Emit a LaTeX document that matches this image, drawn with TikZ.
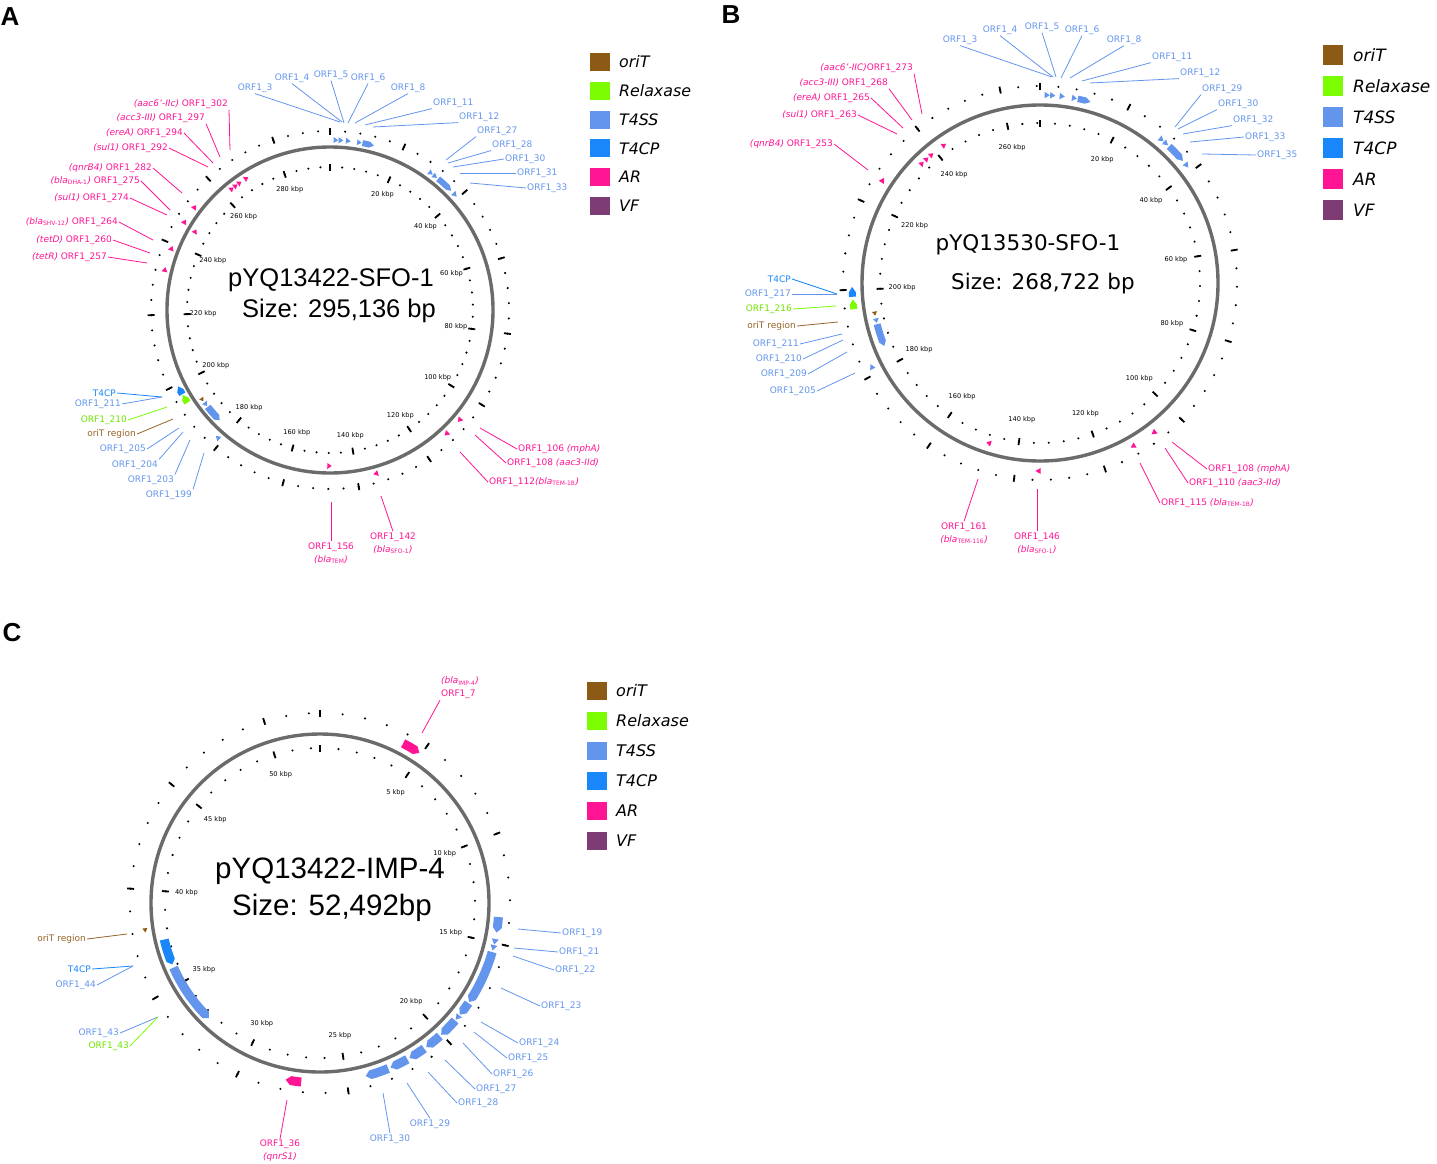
\documentclass[tikz,border=0pt]{standalone}
\usepackage{fontspec}
\setmainfont{DejaVu Sans}
\newfontfamily\arialfont{Liberation Sans}
\usetikzlibrary{calc}

\definecolor{oriTc}{RGB}{140,90,20}
\definecolor{oriTtxt}{RGB}{150,100,40}
\definecolor{relc}{RGB}{124,252,0}
\definecolor{t4ssc}{RGB}{100,149,237}
\definecolor{t4cpc}{RGB}{25,135,250}
\definecolor{arcol}{RGB}{255,20,147}
\definecolor{vfc}{RGB}{125,60,115}

% gene arrow on a ring: centre, radius, from, tip (degrees clockwise from top), colour, half width
\newcommand{\orfarrow}[6]{%
  \pgfmathsetmacro{\orfa}{#3-90}%
  \pgfmathsetmacro{\orfz}{#4-90}%
  \pgfmathsetmacro{\orfb}{#4-90-1.6*sign(#4-#3)}%
  \fill[#5] ($(#1)+(\orfa:{#2-#6})$)
    arc[start angle=\orfa, end angle=\orfb, radius={#2-#6}]
    -- ($(#1)+(\orfz:#2)$)
    -- ($(#1)+(\orfb:{#2+#6})$)
    arc[start angle=\orfb, end angle=\orfa, radius={#2+#6}] -- cycle;}
% small triangle: centre, radius, back, tip, colour, half width
\newcommand{\orftri}[6]{%
  \fill[#5] ($(#1)+({#3-90}:{#2-#6})$) -- ($(#1)+({#4-90}:#2)$)
    -- ($(#1)+({#3-90}:{#2+#6})$) -- cycle;}

\begin{document}
\begin{tikzpicture}[x=1pt,y=1pt,yscale=-1]
   \tikzset{ring/.style={draw=black!58, line width=3.4pt},
            ktick/.style={line width=1.8pt},
            kbp/.style={font=\fontsize{6.6}{7}\selectfont, inner sep=0pt},
            lab/.style={font=\fontsize{9}{13}\selectfont, inner sep=1pt, align=center},
            arlab/.style={lab, text=arcol},
            sslab/.style={lab, text=t4ssc},
            cplab/.style={lab, text=t4cpc},
            rellab/.style={lab, text=relc!90!black},
            orilab/.style={lab, text=oriTtxt},
            lead/.style={line width=0.8pt},
            title/.style={inner sep=0pt},
            letter/.style={font=\arialfont\bfseries\fontsize{26}{30}\selectfont},
            legbox/.style={minimum width=20pt, minimum height=18pt, inner sep=0pt}}
   \useasboundingbox (0,0) rectangle (1437,1164);

   % ================= A =================
   \node[letter] (pA) at (10,17) {A};
   \coordinate (A) at (330,310);
   \draw[ring] (A) circle[radius=163];
   \foreach \k in {0,4,...,292} {
     \fill ($(A)+({\k/295.136*360-90}:143)$) circle[radius=1.15];
     \fill ($(A)+({\k/295.136*360-90}:179)$) circle[radius=1.15];
   }
   \foreach \k in {0,20,...,280} {
     \draw[ktick] ($(A)+({\k/295.136*360-90}:139.5)$) -- ($(A)+({\k/295.136*360-90}:146.5)$);
     \draw[ktick] ($(A)+({\k/295.136*360-90}:175.5)$) -- ($(A)+({\k/295.136*360-90}:182.5)$);
   }
   \foreach \k in {20,40,...,280}
     \node[kbp] (ka\k) at ($(A)+({\k/295.136*360-90}:127)$) {\k\ kbp};
   \node[title, font=\arialfont\fontsize{25.5}{30}\selectfont] (ta1) at (331,280) {pYQ13422-SFO-1};
   \node[title, font=\arialfont\fontsize{25.5}{30}\selectfont] (ta2) at (339,311) {Size: 295,136 bp};

   % features A
   \orftri{A}{170}{1.2}{2.8}{t4ssc}{3}
   \orftri{A}{170}{2.9}{4.5}{t4ssc}{3}
   \orftri{A}{170}{5.4}{7.0}{t4ssc}{3}
   \orftri{A}{170}{9.2}{10.7}{t4ssc}{3}
   \orfarrow{A}{170}{11}{15}{t4ssc}{3}
   \orftri{A}{170}{35.6}{37.2}{t4ssc}{3}
   \orftri{A}{170}{37.4}{39}{t4ssc}{3}
   \orfarrow{A}{170}{39.5}{45.5}{t4ssc}{3}
   \orftri{A}{170}{46.5}{48.2}{t4ssc}{3}
   \orfarrow{A}{170}{240.3}{243.3}{t4cpc}{3.5}
   \orfarrow{A}{170}{237}{240}{relc}{3.5}
   \orftri{A}{156}{235.6}{234.2}{oriTc}{2.5}
   \orftri{A}{156}{233.6}{232}{t4ssc}{3}
   \orfarrow{A}{156}{231.6}{225}{t4ssc}{3.5}
   \orftri{A}{170}{220.6}{222.2}{t4ssc}{3}
   \orftri{A}{156}{320.2}{321.8}{arcol}{3}
   \orftri{A}{156}{322}{323.6}{arcol}{3}
   \orftri{A}{156}{323.8}{325.4}{arcol}{3}
   \orftri{A}{156}{326.8}{328.4}{arcol}{3}
   \orftri{A}{156}{299.5}{301.1}{arcol}{3}
   \orftri{A}{170}{306.5}{308.1}{arcol}{3}
   \orftri{A}{170}{300.5}{302.1}{arcol}{3}
   \orftri{A}{170}{290.5}{292.1}{arcol}{3}
   \orftri{A}{170}{283}{284.6}{arcol}{3}
   \orftri{A}{156}{181}{179.4}{arcol}{3}
   \orftri{A}{170}{163.6}{165.2}{arcol}{3}
   \orftri{A}{170}{136}{137.6}{arcol}{3}
   \orftri{A}{170}{129.6}{131.2}{arcol}{3}

   % labels A
   \node[arlab, anchor=east] (a302) at (229,104) {\textit{(aac6'-IIc)} ORF1\_302};
   \node[arlab, anchor=east] (a297) at (206,118) {\textit{(acc3-III)} ORF1\_297};
   \node[arlab, anchor=east] (a294) at (184,133) {\textit{(ereA)} ORF1\_294};
   \node[arlab, anchor=east] (a292) at (169,148) {\textit{(sul1)} ORF1\_292};
   \node[arlab, anchor=east] (a282) at (153,168) {\textit{(qnrB4)} ORF1\_282};
   \node[arlab, anchor=east] (a275) at (141,181) {\textit{(bla}\textsubscript{DHA-1}\textit{)} ORF1\_275};
   \node[arlab, anchor=east] (a274) at (130,198) {\textit{(sul1)} ORF1\_274};
   \node[arlab, anchor=east] (a264) at (119,222) {\textit{(bla}\textsubscript{SHV-12}\textit{)} ORF1\_264};
   \node[arlab, anchor=east] (a260) at (113,240) {\textit{(tetD)} ORF1\_260};
   \node[arlab, anchor=east] (a257) at (108,257) {\textit{(tetR)} ORF1\_257};
   \coordinate (ea302) at (230,150);
   \coordinate (ea297) at (220,157);
   \coordinate (ea294) at (213,163);
   \coordinate (ea292) at (208,167);
   \coordinate (ea282) at (182,193);
   \coordinate (ea275) at (170,210);
   \coordinate (ea274) at (167,215);
   \coordinate (ea264) at (153,240);
   \coordinate (ea260) at (150,253);
   \coordinate (ea257) at (147,263);
   \draw[lead, arcol] (a302.south east) -- (ea302);
   \draw[lead, arcol] (a297.south east) -- (ea297);
   \draw[lead, arcol] (a294.east) -- (ea294);
   \draw[lead, arcol] (a292.east) -- (ea292);
   \draw[lead, arcol] (a282.east) -- (ea282);
   \draw[lead, arcol] (a275.east) -- (ea275);
   \draw[lead, arcol] (a274.east) -- (ea274);
   \draw[lead, arcol] (a264.east) -- (ea264);
   \draw[lead, arcol] (a260.east) -- (ea260);
   \draw[lead, arcol] (a257.east) -- (ea257);

   \node[sslab] (a3) at (255,88) {ORF1\_3};
   \node[sslab] (a4) at (292,78) {ORF1\_4};
   \node[sslab] (a5) at (331,75) {ORF1\_5};
   \node[sslab] (a6) at (368,78) {ORF1\_6};
   \node[sslab] (a8) at (408,88) {ORF1\_8};
   \node[sslab, anchor=west] (a11) at (432,103) {ORF1\_11};
   \node[sslab, anchor=west] (a12) at (458,117) {ORF1\_12};
   \node[sslab, anchor=west] (a27) at (476,131) {ORF1\_27};
   \node[sslab, anchor=west] (a28) at (491,145) {ORF1\_28};
   \node[sslab, anchor=west] (a30) at (504,159) {ORF1\_30};
   \node[sslab, anchor=west] (a31) at (516,173) {ORF1\_31};
   \node[sslab, anchor=west] (a33) at (526,188) {ORF1\_33};
   \coordinate (ea3) at (340,122);
   \coordinate (ea4) at (342,122);
   \coordinate (ea5) at (344,123);
   \coordinate (ea6) at (348,123);
   \coordinate (ea8) at (355,123);
   \coordinate (ea11) at (365,125);
   \coordinate (ea12) at (373,127);
   \coordinate (ea27) at (446,160);
   \coordinate (ea28) at (448,163);
   \coordinate (ea30) at (453,167);
   \coordinate (ea31) at (460,173);
   \coordinate (ea33) at (470,183);
   \draw[lead, t4ssc] (a3.south) -- (ea3);
   \draw[lead, t4ssc] (a4.south) -- (ea4);
   \draw[lead, t4ssc] (a5.south) -- (ea5);
   \draw[lead, t4ssc] (a6.south) -- (ea6);
   \draw[lead, t4ssc] (a8.south) -- (ea8);
   \draw[lead, t4ssc] (a11.south west) -- (ea11);
   \draw[lead, t4ssc] (a12.south west) -- (ea12);
   \draw[lead, t4ssc] (a27.south west) -- (ea27);
   \draw[lead, t4ssc] (a28.south west) -- (ea28);
   \draw[lead, t4ssc] (a30.west) -- (ea30);
   \draw[lead, t4ssc] (a31.west) -- (ea31);
   \draw[lead, t4ssc] (a33.west) -- (ea33);

   \node[cplab, anchor=east] (acp) at (117,393) {T4CP};
   \node[sslab, anchor=east] (a211) at (122,404) {ORF1\_211};
   \node[rellab, anchor=east] (a210) at (128,420) {ORF1\_210};
   \node[orilab, anchor=east] (aori) at (137,434) {oriT region};
   \node[sslab, anchor=east] (a205) at (147,449) {ORF1\_205};
   \node[sslab, anchor=east] (a204) at (159,465) {ORF1\_204};
   \node[sslab, anchor=east] (a203) at (175,480) {ORF1\_203};
   \node[sslab, anchor=east] (a199) at (193,495) {ORF1\_199};
   \coordinate (eacp) at (162,397);
   \coordinate (ea210) at (167,407);
   \coordinate (eaori) at (173,419);
   \coordinate (ea205) at (179,428);
   \coordinate (ea204) at (183,432);
   \coordinate (ea203) at (190,440);
   \coordinate (ea199) at (204,453);
   \draw[lead, t4cpc] (acp.east) -- (eacp);
   \draw[lead, t4ssc] (a211.east) -- (eacp);
   \draw[lead, relc] (a210.east) -- (ea210);
   \draw[lead, oriTtxt] (aori.east) -- (eaori);
   \draw[lead, t4ssc] (a205.east) -- (ea205);
   \draw[lead, t4ssc] (a204.north east) -- (ea204);
   \draw[lead, t4ssc] (a203.north east) -- (ea203);
   \draw[lead, t4ssc] (a199.north east) -- (ea199);

   \node[arlab, anchor=west] (a106) at (517,449) {ORF1\_106 \textit{(mphA)}};
   \node[arlab, anchor=west] (a108) at (506,463) {ORF1\_108 \textit{(aac3-IId)}};
   \node[arlab, anchor=west] (a112) at (488,482) {ORF1\_112\textit{(bla}\textsubscript{TEM-1B}\textit{)}};
   \node[arlab] (a156) at (331,553) {ORF1\_156\\\textit{(bla}\textsubscript{TEM}\textit{)}};
   \node[arlab] (a142) at (393,543) {ORF1\_142\\\textit{(bla}\textsubscript{SFO-1}\textit{)}};
   \coordinate (ea106) at (480,428);
   \coordinate (ea108) at (475,435);
   \coordinate (ea112) at (460,452);
   \coordinate (ea156) at (331,502);
   \coordinate (ea142) at (381,496);
   \draw[lead, arcol] (a106.west) -- (ea106);
   \draw[lead, arcol] (a108.west) -- (ea108);
   \draw[lead, arcol] (a112.west) -- (ea112);
   \draw[lead, arcol] (a156.north) -- (ea156);
   \draw[lead, arcol] (a142.north) -- (ea142);

   \foreach \t/\c [count=\i] in {oriT/oriTc,Relaxase/relc,T4SS/t4ssc,T4CP/t4cpc,AR/arcol,VF/vfc} {
     \node[legbox, fill=\c] (lga\i) at (600,{62+28.8*(\i-1)}) {};
     \node[anchor=west, inner sep=0pt, font=\itshape\fontsize{15.8}{18}\selectfont] (lta\i) at (619,{62+28.8*(\i-1)}) {\t};
   }

   % ================= B =================
   \node[letter] (pB) at (731,15) {B};
   \coordinate (B) at (1040,283);
   \draw[ring] (B) circle[radius=178];
   \foreach \k in {0,4,...,268} {
     \fill ($(B)+({\k/268.722*360-90}:160)$) circle[radius=1.15];
     \fill ($(B)+({\k/268.722*360-90}:197)$) circle[radius=1.15];
   }
   \foreach \k in {0,20,...,260} {
     \draw[ktick] ($(B)+({\k/268.722*360-90}:156.5)$) -- ($(B)+({\k/268.722*360-90}:163.5)$);
     \draw[ktick] ($(B)+({\k/268.722*360-90}:193.5)$) -- ($(B)+({\k/268.722*360-90}:200.5)$);
   }
   \foreach \k in {20,40,...,260}
     \node[kbp] (kb\k) at ($(B)+({\k/268.722*360-90}:138)$) {\k\ kbp};
   \node[title, font=\fontsize{21.5}{26}\selectfont] (tb1) at (1028,245) {pYQ13530-SFO-1};
   \node[title, font=\fontsize{21.5}{26}\selectfont] (tb2) at (1043,284) {Size: 268,722 bp};

   % features B
   \orftri{B}{188}{1.4}{3.0}{t4ssc}{3.2}
   \orftri{B}{188}{3.1}{4.7}{t4ssc}{3.2}
   \orftri{B}{188}{6.0}{7.6}{t4ssc}{3.2}
   \orftri{B}{188}{9.8}{11.3}{t4ssc}{3.2}
   \orfarrow{B}{188}{11.6}{15.6}{t4ssc}{3.2}
   \orftri{B}{188}{39.5}{41.1}{t4ssc}{3.2}
   \orftri{B}{188}{41.3}{42.9}{t4ssc}{3.2}
   \orfarrow{B}{188}{43.4}{49.5}{t4ssc}{3.5}
   \orftri{B}{188}{50.5}{52.1}{t4ssc}{3.2}
   \orfarrow{B}{188}{265.8}{268.8}{t4cpc}{3.5}
   \orfarrow{B}{188}{262}{265}{relc}{3.5}
   \orftri{B}{168}{260.2}{258.8}{oriTc}{2.5}
   \orftri{B}{168}{257.8}{256.3}{t4ssc}{3}
   \orfarrow{B}{168}{255.8}{248}{t4ssc}{3.5}
   \orftri{B}{188}{242.8}{244.4}{t4ssc}{3}
   \orftri{B}{168}{314.6}{316.2}{arcol}{3}
   \orftri{B}{168}{316.8}{318.4}{arcol}{3}
   \orftri{B}{168}{319}{320.6}{arcol}{3}
   \orftri{B}{168}{324.4}{326}{arcol}{3}
   \orftri{B}{188}{302.4}{304}{arcol}{3}
   \orftri{B}{168}{197}{198.6}{arcol}{3}
   \orftri{B}{188}{179.8}{181.4}{arcol}{3}
   \orftri{B}{188}{149.6}{151.2}{arcol}{3}
   \orftri{B}{188}{142}{143.6}{arcol}{3}

   % labels B
   \node[arlab, anchor=east] (b273) at (914,68) {\textit{(aac6'-IIC)}ORF1\_273};
   \node[arlab, anchor=east] (b268) at (889,83) {\textit{(acc3-III)} ORF1\_268};
   \node[arlab, anchor=east] (b265) at (871,98) {\textit{(ereA)} ORF1\_265};
   \node[arlab, anchor=east] (b263) at (858,115) {\textit{(sul1)} ORF1\_263};
   \node[arlab, anchor=east] (b253) at (834,144) {\textit{(qnrB4)} ORF1\_253};
   \coordinate (eb273) at (922,114);
   \coordinate (eb268) at (912,120);
   \coordinate (eb265) at (903,128);
   \coordinate (eb263) at (897,134);
   \coordinate (eb253) at (868,170);
   \draw[lead, arcol] (b273.south east) -- (eb273);
   \draw[lead, arcol] (b268.south east) -- (eb268);
   \draw[lead, arcol] (b265.east) -- (eb265);
   \draw[lead, arcol] (b263.east) -- (eb263);
   \draw[lead, arcol] (b253.east) -- (eb253);

   \node[sslab] (b3) at (960,40) {ORF1\_3};
   \node[sslab] (b4) at (1000,30) {ORF1\_4};
   \node[sslab] (b5) at (1042,27) {ORF1\_5};
   \node[sslab] (b6) at (1082,30) {ORF1\_6};
   \node[sslab] (b8) at (1124,40) {ORF1\_8};
   \node[sslab, anchor=west] (b11) at (1151,57) {ORF1\_11};
   \node[sslab, anchor=west] (b12) at (1179,73) {ORF1\_12};
   \node[sslab, anchor=west] (b29) at (1201,89) {ORF1\_29};
   \node[sslab, anchor=west] (b30) at (1217,104) {ORF1\_30};
   \node[sslab, anchor=west] (b32) at (1232,120) {ORF1\_32};
   \node[sslab, anchor=west] (b33) at (1244,137) {ORF1\_33};
   \node[sslab, anchor=west] (b35) at (1256,155) {ORF1\_35};
   \coordinate (eb3) at (1052,77);
   \coordinate (eb4) at (1053,77);
   \coordinate (eb5) at (1056,77);
   \coordinate (eb6) at (1061,78);
   \coordinate (eb8) at (1070,78);
   \coordinate (eb11) at (1082,81);
   \coordinate (eb12) at (1090,83);
   \coordinate (eb29) at (1175,127);
   \coordinate (eb30) at (1178,129);
   \coordinate (eb32) at (1183,134);
   \coordinate (eb33) at (1190,142);
   \coordinate (eb35) at (1202,154);
   \draw[lead, t4ssc] (b3.south) -- (eb3);
   \draw[lead, t4ssc] (b4.south) -- (eb4);
   \draw[lead, t4ssc] (b5.south) -- (eb5);
   \draw[lead, t4ssc] (b6.south) -- (eb6);
   \draw[lead, t4ssc] (b8.south) -- (eb8);
   \draw[lead, t4ssc] (b11.south west) -- (eb11);
   \draw[lead, t4ssc] (b12.south west) -- (eb12);
   \draw[lead, t4ssc] (b29.south west) -- (eb29);
   \draw[lead, t4ssc] (b30.south west) -- (eb30);
   \draw[lead, t4ssc] (b32.south west) -- (eb32);
   \draw[lead, t4ssc] (b33.west) -- (eb33);
   \draw[lead, t4ssc] (b35.west) -- (eb35);

   \node[cplab, anchor=east] (bcp) at (792,279) {T4CP};
   \node[sslab, anchor=east] (b217) at (792,294) {ORF1\_217};
   \node[rellab, anchor=east] (b216) at (793,309) {ORF1\_216};
   \node[orilab, anchor=east] (bori) at (797,326) {oriT region};
   \node[sslab, anchor=east] (b211) at (800,344) {ORF1\_211};
   \node[sslab, anchor=east] (b210) at (803,359) {ORF1\_210};
   \node[sslab, anchor=east] (b209) at (808,374) {ORF1\_209};
   \node[sslab, anchor=east] (b205) at (817,391) {ORF1\_205};
   \coordinate (ebcp) at (837,294);
   \coordinate (eb216) at (836,306);
   \coordinate (ebori) at (838,322);
   \coordinate (eb211) at (842,334);
   \coordinate (eb210) at (843,340);
   \coordinate (eb209) at (847,352);
   \coordinate (eb205) at (855,373);
   \draw[lead, t4cpc] (bcp.east) -- (ebcp);
   \draw[lead, t4ssc] (b217.east) -- (ebcp);
   \draw[lead, relc] (b216.east) -- (eb216);
   \draw[lead, oriTtxt] (bori.east) -- (ebori);
   \draw[lead, t4ssc] (b211.east) -- (eb211);
   \draw[lead, t4ssc] (b210.east) -- (eb210);
   \draw[lead, t4ssc] (b209.east) -- (eb209);
   \draw[lead, t4ssc] (b205.east) -- (eb205);

   \node[arlab, anchor=west] (b108) at (1207,469) {ORF1\_108 \textit{(mphA)}};
   \node[arlab, anchor=west] (b110) at (1188,483) {ORF1\_110 \textit{(aac3-IId)}};
   \node[arlab, anchor=west] (b115) at (1160,503) {ORF1\_115 \textit{(bla}\textsubscript{TEM-1B}\textit{)}};
   \node[arlab] (b161) at (964,533) {ORF1\_161\\\textit{(bla}\textsubscript{TEM-116}\textit{)}};
   \node[arlab] (b146) at (1037,543) {ORF1\_146\\\textit{(bla}\textsubscript{SFO-1}\textit{)}};
   \coordinate (eb108) at (1172,442);
   \coordinate (eb110) at (1165,448);
   \coordinate (eb115) at (1140,463);
   \coordinate (eb161) at (978,479);
   \coordinate (eb146) at (1037,489);
   \draw[lead, arcol] (b108.west) -- (eb108);
   \draw[lead, arcol] (b110.west) -- (eb110);
   \draw[lead, arcol] (b115.west) -- (eb115);
   \draw[lead, arcol] (b161.north) -- (eb161);
   \draw[lead, arcol] (b146.north) -- (eb146);

   \foreach \t/\c [count=\i] in {oriT/oriTc,Relaxase/relc,T4SS/t4ssc,T4CP/t4cpc,AR/arcol,VF/vfc} {
     \node[legbox, minimum height=20pt, fill=\c] (lgb\i) at (1333,{55+31*(\i-1)}) {};
     \node[anchor=west, inner sep=0pt, font=\itshape\fontsize{17}{20}\selectfont] (ltb\i) at (1353,{55+31*(\i-1)}) {\t};
   }

   % ================= C =================
   \node[letter] (pC) at (12,633) {C};
   \coordinate (C) at (320,903);
   \draw[ring] (C) circle[radius=169];
   \foreach \k in {0,...,52} {
     \fill ($(C)+({\k/52.492*360-90}:155)$) circle[radius=1.15];
     \fill ($(C)+({\k/52.492*360-90}:190)$) circle[radius=1.15];
   }
   \foreach \k in {0,5,...,50} {
     \draw[ktick] ($(C)+({\k/52.492*360-90}:151.5)$) -- ($(C)+({\k/52.492*360-90}:158.5)$);
     \draw[ktick] ($(C)+({\k/52.492*360-90}:186.5)$) -- ($(C)+({\k/52.492*360-90}:193.5)$);
   }
   \foreach \k in {5,10,...,50}
     \node[kbp] (kc\k) at ($(C)+({\k/52.492*360-90}:134)$) {\k\ kbp};
   \node[title, font=\arialfont\fontsize{29.5}{36}\selectfont] (tc1) at (330,871) {pYQ13422-IMP-4};
   \node[title, font=\arialfont\fontsize{29.5}{36}\selectfont] (tc2) at (332,908) {Size: 52,492bp};

   % features C
   \orfarrow{C}{180}{27.5}{33.5}{arcol}{4.5}
   \orfarrow{C}{179}{94.5}{99.5}{t4ssc}{4.5}
   \orftri{C}{179}{101.6}{103.4}{t4ssc}{3.5}
   \orftri{C}{179}{103.6}{105.4}{t4ssc}{3.5}
   \orfarrow{C}{179}{105.9}{123.6}{t4ssc}{4.5}
   \orfarrow{C}{179}{124}{128.6}{t4ssc}{4.5}
   \orftri{C}{179}{128.9}{130.7}{t4ssc}{3.5}
   \orfarrow{C}{179}{131}{137.4}{t4ssc}{4.5}
   \orfarrow{C}{179}{138}{143.6}{t4ssc}{4.5}
   \orfarrow{C}{179}{144.4}{150}{t4ssc}{4.5}
   \orfarrow{C}{179}{150.8}{156.8}{t4ssc}{4.5}
   \orfarrow{C}{179}{157.6}{165.2}{t4ssc}{4.5}
   \orfarrow{C}{180}{186}{191}{arcol}{4.5}
   \orfarrow{C}{160}{256.8}{247.4}{t4cpc}{4.5}
   \orfarrow{C}{160}{246.2}{224}{t4ssc}{4.5}
   \orftri{C}{177}{261.8}{260.4}{oriTc}{2.5}

   % labels C
   \node[arlab, anchor=west, align=left] (c7) at (440,688) {\textit{(bla}\textsubscript{IMP-4}\textit{)}\\ORF1\_7};
   \coordinate (ec7) at (422,733);
   \draw[lead, arcol] (c7.south west) -- (ec7);

   \node[orilab, anchor=east] (cori) at (87,939) {oriT region};
   \node[cplab, anchor=east] (ccp) at (92,969) {T4CP};
   \node[sslab, anchor=east] (c44) at (97,985) {ORF1\_44};
   \node[sslab, anchor=east] (c43s) at (120,1033) {ORF1\_43};
   \node[rellab, anchor=east] (c43r) at (130,1046) {ORF1\_43};
   \coordinate (ecori) at (127,934);
   \coordinate (eccp) at (133,966);
   \coordinate (ec43) at (158,1017);
   \draw[lead, oriTtxt] (cori.east) -- (ecori);
   \draw[lead, t4cpc] (ccp.east) -- (eccp);
   \draw[lead, t4ssc] (c44.east) -- (eccp);
   \draw[lead, t4ssc] (c43s.east) -- (ec43);
   \draw[lead, relc] (c43r.east) -- (ec43);

   \node[sslab, anchor=west] (c19) at (561,933) {ORF1\_19};
   \node[sslab, anchor=west] (c21) at (558,952) {ORF1\_21};
   \node[sslab, anchor=west] (c22) at (554,970) {ORF1\_22};
   \node[sslab, anchor=west] (c23) at (540,1006) {ORF1\_23};
   \node[sslab, anchor=west] (c24) at (518,1043) {ORF1\_24};
   \node[sslab, anchor=west] (c25) at (507,1058) {ORF1\_25};
   \node[sslab, anchor=west] (c26) at (492,1074) {ORF1\_26};
   \node[sslab, anchor=west] (c27) at (475,1089) {ORF1\_27};
   \node[sslab, anchor=west] (c28) at (457,1103) {ORF1\_28};
   \node[sslab] (c29) at (430,1124) {ORF1\_29};
   \node[sslab] (c30) at (390,1139) {ORF1\_30};
   \coordinate (ec19) at (518,929);
   \coordinate (ec21) at (514,948);
   \coordinate (ec22) at (513,956);
   \coordinate (ec23) at (501,988);
   \coordinate (ec24) at (481,1022);
   \coordinate (ec25) at (474,1032);
   \coordinate (ec26) at (463,1043);
   \coordinate (ec27) at (445,1060);
   \coordinate (ec28) at (428,1072);
   \coordinate (ec29) at (407,1083);
   \coordinate (ec30) at (383,1093);
   \draw[lead, t4ssc] (c19.west) -- (ec19);
   \draw[lead, t4ssc] (c21.west) -- (ec21);
   \draw[lead, t4ssc] (c22.west) -- (ec22);
   \draw[lead, t4ssc] (c23.west) -- (ec23);
   \draw[lead, t4ssc] (c24.west) -- (ec24);
   \draw[lead, t4ssc] (c25.west) -- (ec25);
   \draw[lead, t4ssc] (c26.west) -- (ec26);
   \draw[lead, t4ssc] (c27.west) -- (ec27);
   \draw[lead, t4ssc] (c28.west) -- (ec28);
   \draw[lead, t4ssc] (c29.north) -- (ec29);
   \draw[lead, t4ssc] (c30.north) -- (ec30);

   \node[arlab] (c36) at (280,1151) {ORF1\_36\\\textit{(qnrS1)}};
   \coordinate (ec36) at (287,1100);
   \draw[lead, arcol] (c36.north) -- (ec36);

   \foreach \t/\c [count=\i] in {oriT/oriTc,Relaxase/relc,T4SS/t4ssc,T4CP/t4cpc,AR/arcol,VF/vfc} {
     \node[legbox, fill=\c] (lgc\i) at (597,{691+30*(\i-1)}) {};
     \node[anchor=west, inner sep=0pt, font=\itshape\fontsize{16}{19}\selectfont] (ltc\i) at (616,{691+30*(\i-1)}) {\t};
   }
\end{tikzpicture}
\end{document}
